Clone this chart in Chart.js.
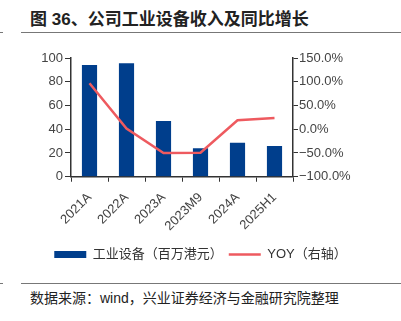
<!DOCTYPE html>
<html>
<head>
<meta charset="utf-8">
<script src="https://cdn.jsdelivr.net/npm/chart.js@4"></script>
<style>
  body { margin: 0; background: #fff; width: 401px; height: 321px; position: relative; overflow: hidden;
         font-family: 'Liberation Sans', 'Noto Sans CJK SC', sans-serif; }
  .title { position: absolute; left: 30px; top: 5px; font-size: 17px; font-weight: bold; color: #222;
           font-family: 'Liberation Sans', 'Noto Sans CJK SC', sans-serif; white-space: nowrap; }
  .rule { position: absolute; height: 1px; background: #777; }
  .source { position: absolute; left: 30px; top: 287px; font-size: 14px; color: #222;
            font-family: 'Liberation Sans', 'Noto Sans CJK SC', sans-serif; white-space: nowrap; }
  #wrap { position: absolute; left: 0; top: 40px; width: 401px; height: 235px; }
</style>
</head>
<body>
<div class="title">图 36、公司工业设备收入及同比增长</div>
<div class="rule" style="left:0;top:32px;width:3px"></div>
<div class="rule" style="left:21px;top:32px;width:380px"></div>
<div id="wrap"><canvas id="chart"></canvas></div>
<div class="rule" style="left:0;top:283px;width:3px"></div>
<div class="rule" style="left:21px;top:283px;width:380px"></div>
<div class="source">数据来源：wind，兴业证券经济与金融研究院整理</div>
<script>
const categories = ['2021A', '2022A', '2023A', '2023M9', '2024A', '2025H1']
const revenue = [94, 95.6, 47, 24, 28.7, 25.8]
const yoy = [97, 1.5, -50, -49.5, 19, 23.5]
const leftTicks = [0, 20, 40, 60, 80, 100]
const rightTicks = [-100, -50, 0, 50, 100, 150]

const tickFont = { family: "'Liberation Sans', Arial, sans-serif", size: 13 }
const axisColor = '#333'
const textColor = '#444'

const ctx = document.getElementById('chart').getContext('2d')

new Chart(ctx, {
  data: {
    labels: categories,
    datasets: [
      {
        type: 'line',
        label: 'YOY（右轴）',
        data: yoy,
        yAxisID: 'y1',
        borderColor: '#EE5A5F',
        backgroundColor: '#EE5A5F',
        borderWidth: 2.5,
        pointRadius: 0,
        tension: 0,
        order: 0,
      },
      {
        type: 'bar',
        label: '工业设备（百万港元）',
        data: revenue,
        yAxisID: 'y',
        backgroundColor: '#003E8C',
        barPercentage: 0.41,
        categoryPercentage: 1,
        order: 1,
      },
    ],
  },
  options: {
    responsive: true,
    maintainAspectRatio: false,
    animation: false,
    layout: { padding: { top: 18, left: 0, right: 0, bottom: 4 } },
    plugins: {
      tooltip: { enabled: false },
      legend: {
        position: 'bottom',
        reverse: true,
        labels: {
          usePointStyle: true,
          boxWidth: 32,
          boxHeight: 7,
          pointStyleWidth: 32,
          padding: 6,
          color: '#333',
          font: { family: "'Liberation Sans', 'Noto Sans CJK SC', sans-serif", size: 13 },
          generateLabels(chart) {
            const items = Chart.defaults.plugins.legend.labels.generateLabels(chart)
            return items.map(it => {
              if (it.datasetIndex === 1) {
                it.pointStyle = 'rect'
                it.lineWidth = 0
                it.strokeStyle = '#003E8C'
              } else {
                it.pointStyle = 'line'
                it.lineWidth = 2.5
              }
              return it
            })
          },
        },
      },
    },
    scales: {
      x: {
        grid: { display: true, drawOnChartArea: false, offset: true, tickLength: 5, color: axisColor },
        border: { color: axisColor, width: 1.5 },
        ticks: { color: textColor, font: tickFont, minRotation: 45, maxRotation: 45, padding: 8 },
      },
      y: {
        position: 'left',
        min: 0,
        max: 100,
        afterBuildTicks(scale) { scale.ticks = leftTicks.map(v => ({ value: v })) },
        afterFit(scale) { scale.width = 71 },
        grid: { drawOnChartArea: false, tickLength: 6, color: axisColor },
        border: { color: axisColor, width: 1.5 },
        ticks: { color: textColor, font: tickFont, padding: 2 },
      },
      y1: {
        position: 'right',
        min: -100,
        max: 150,
        afterBuildTicks(scale) { scale.ticks = rightTicks.map(v => ({ value: v })) },
        afterFit(scale) { scale.width = 108 },
        grid: { drawOnChartArea: false, tickLength: 5, color: axisColor },
        border: { color: axisColor, width: 1.5 },
        ticks: {
          color: textColor,
          font: tickFont,
          padding: 1,
          callback: v => (v < 0 ? '−' + Math.abs(v).toFixed(1) : v.toFixed(1)) + '%',
        },
      },
    },
  },
})
</script>
</body>
</html>
